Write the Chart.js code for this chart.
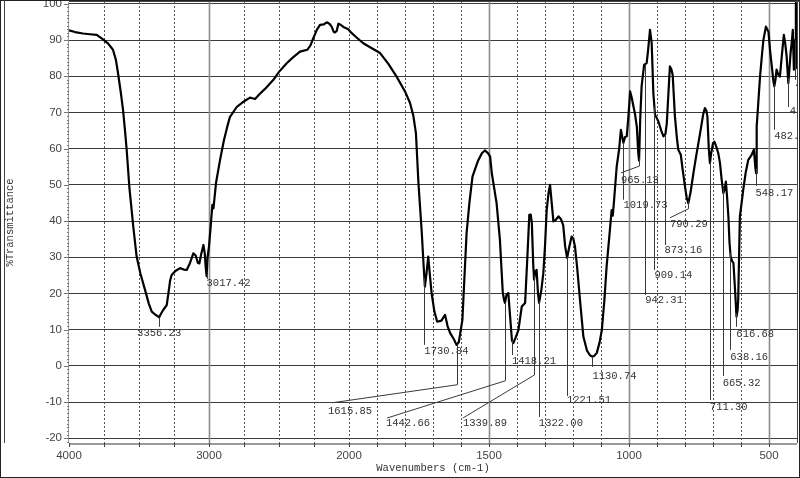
<!DOCTYPE html>
<html>
<head>
<meta charset="utf-8">
<script src="https://cdn.jsdelivr.net/npm/chart.js@4.4.1/dist/chart.umd.min.js"></script>
<style>
html,body{margin:0;padding:0;background:#fff;}
canvas{display:block;}
</style>
</head>
<body>
<canvas id="c" width="800" height="478" style="width:800px;height:478px"></canvas>
<script>
// ---- data ----
const wavenumbers = [4000,3957,3900,3850,3802,3757,3720,3686,3665,3650,3630,3614,3600,3588,3569,3555,3541,3517,3490,3457,3430,3409,3385,3362,3356,3340,3326,3302,3290,3278,3267,3240,3207,3180,3159,3135,3112,3095,3080,3069,3055,3040,3030,3024,3017,3010,3000,2988,2976,2968,2950,2921,2893,2870,2850,2802,2760,2707,2690,2671,2640,2600,2540,2500,2445,2400,2350,2298,2275,2255,2230,2207,2180,2159,2140,2124,2110,2100,2088,2076,2064,2040,2005,1996,1970,1949,1920,1889,1860,1830,1800,1782,1770,1761,1752,1740,1733,1729,1724,1717,1711,1705,1695,1685,1670,1657,1648,1639,1625,1616,1608,1595,1588,1580,1570,1559,1540,1525,1514,1503,1496,1490,1473,1461,1451,1447,1443,1438,1431,1425,1418,1413,1405,1395,1383,1371,1363,1356,1351,1347,1342,1339,1335,1330,1325,1321,1313,1306,1300,1294,1287,1282,1276,1270,1262,1252,1243,1235,1228,1221,1213,1205,1199,1193,1185,1175,1163,1150,1140,1133,1125,1115,1105,1097,1088,1080,1070,1062,1058,1053,1044,1035,1029,1020,1014,1008,1002,996,990,985,979,972,967,964,960,955,946,937,932,925,919,913,907,901,895,885,877,870,865,858,854,849,844,836,829,824,815,808,800,794,788,780,770,760,746,735,729,724,720,715,711,707,700,695,688,681,675,669,663,658,654,650,645,641,637,632,627,622,616,612,610,604,592,583,574,562,554,549,546,544,538,532,525,520,511,502,496,490,484,481,477,473,467,461,455,447,442,437,431,427,423,418,415,411,407,404,400];
const transmittance = [92.7,92.2,91.8,91.6,91.4,90.2,89.0,87.3,84.5,80.9,75.5,70.7,65,59.7,49.4,44,38.5,30.2,25.5,21,17.2,15,14.2,13.6,13.4,14.6,15.5,16.8,20,23.5,25.1,26.2,27,26.6,26.5,28.5,31.1,30.5,28.5,28.3,31,33.4,31,27.5,24.8,30,33,38.5,44.5,43.5,50.5,56.9,62.4,66,68.8,71.5,72.8,74.1,73.9,73.7,75,76.5,79,81.2,83.6,85.2,86.8,87.3,88.5,90.5,92.8,94.2,94.3,94.9,94.5,93.7,92.3,92.1,92.5,94.5,94.3,93.6,93,92.3,90.5,89.1,87.8,86.4,83.5,79.9,75.8,72.6,69,64.3,50.5,36.7,27,21.9,25,30.2,25,20.1,15,12.2,12.5,14.1,11,9.1,7.3,5.8,6.5,12.7,24,36.7,45,52.3,56.5,58.8,59.5,58.7,57.8,53.2,45,34.8,20.5,18.5,17.4,19.5,20.1,14,7,6.3,7.8,9.9,16.4,17.4,30,41.7,41.8,39.5,28,23.8,26,26.5,20,17.4,21,25.6,33,43,48,50,45,39.9,40.3,41.3,40.5,38.9,33,29.8,33,35.7,35.2,33,27,18.2,8.1,4.2,3,2.6,2.7,3.6,6.5,9.9,18,27.4,36,43,41.5,46,55,60,65.2,61.6,63.2,63.4,69,75.8,74,72,69.8,66,58.8,56.7,68,77.2,83.1,83.6,87,92.8,89.2,75.3,69.3,68.5,67.5,65,63.4,64,67,77,82.7,82,80.4,68.9,63,59.7,58.3,54,49.5,46.5,44.9,48,53.2,58,64.3,69.5,71.2,70.6,68.9,60,56,58.5,61.5,61.9,60.5,58.7,56,51.4,47.7,49,50.9,47,41.2,34,30.2,29,28.4,22,13.6,15.5,18.2,41.2,48.6,53.5,56.9,58.3,59.7,55,53.2,66.1,73,79.9,86,90,93.7,92.3,87,82.7,78.5,77.2,79,81.8,80.5,79.9,85,91.4,89,85.5,78.1,82,86.4,90,92.8,81.8,90,100.2,82];
const xTickLabels = [4000, 3000, 2000, 1500, 1000, 500];
const yMin = -21.3, yMax = 100.5, yStep = 10;
const solidGridWavenumbers = [3000, 1500, 1000, 500];
const dashedGridWavenumbers = [3750, 3500, 3250, 2750, 2500, 2250, 2000, 1900, 1800, 1700, 1600, 1400, 1300, 1200, 1100, 900, 800, 700, 600];
const peakWavenumbers = [3356.23, 3017.42, 1730.84, 1615.85, 1442.66, 1418.21, 1339.89, 1322.00, 1221.51, 1130.74, 1019.73, 965.13, 942.31, 909.14, 873.16, 790.29, 711.30, 665.32, 638.16, 616.68, 548.17, 482.21, 432.10, 407.07];
const peakLabels = ['3356.23','3017.42','1730.84','1615.85','1442.66','1418.21','1339.89','1322.00','1221.51','1130.74','1019.73','965.13','942.31','909.14','873.16','790.29','711.30','665.32','638.16','616.68','548.17','482.21','432.10','407.07'];

// ---- annotation layout (in data units: wavenumber, %T) ----
const annotationLayout = [
  {end: 10.8, text: [3356.23, 9.1], align: 'center'},
  {end: 24.0, text: [3017.42, 22.7]},
  {end: 5.8, text: [1730.84, 4.1]},
  {end: -5.2, via: [2121, -10.2], text: [2150, -12.4]},
  {end: -4.1, via: [1864, -14.4], text: [1868, -15.7]},
  {end: 3.0, text: [1418.21, 1.4]},
  {end: -2.5, via: [1593, -14.4], text: [1593, -15.7]},
  {end: -14.1, text: [1322.0, -15.7]},
  {end: -8.3, text: [1221.51, -9.4]},
  {end: -0.3, text: [1130.74, -2.8]},
  {end: 45.9, text: [1019.73, 44.5]},
  {end: 55.2, via: [1028.6, 53.3], text: [1028.6, 51.4]},
  {end: 19.6, text: [942.31, 18.2]},
  {end: 26.5, text: [909.14, 25.1]},
  {end: 33.4, text: [873.16, 32.0]},
  {end: 43.4, via: [853.6, 40.9], text: [853.6, 39.0]},
  {end: -9.4, text: [711.30, -11.3]},
  {end: -2.8, text: [665.32, -4.7]},
  {end: 4.4, text: [638.16, 2.5]},
  {end: 10.8, text: [616.68, 8.8]},
  {end: 49.7, text: [548.17, 47.8]},
  {end: 65.2, text: [481.5, 63.5]},
  {end: 71.5, text: [426, 70.2]},
  {end: 79.0, text: [405, 77.6]}
];

// piecewise axis (OMNIC style: 2x expansion below 2000 cm-1)
function toU(w){ return w >= 2000 ? (4000 - w) / 2 : 1000 + (2000 - w); }
function fromU(u){ return u <= 1000 ? 4000 - 2 * u : 2000 - (u - 1000); }
function curveAt(w){
  for (let i = 0; i < wavenumbers.length - 1; i++) {
    const a = wavenumbers[i], b = wavenumbers[i + 1];
    if (w <= a && w >= b) {
      const t = (a - w) / (a - b);
      return transmittance[i] + t * (transmittance[i + 1] - transmittance[i]);
    }
  }
  return transmittance[transmittance.length - 1];
}

const points = wavenumbers.map((w, i) => ({x: toU(w), y: transmittance[i]}));

const bgPlugin = {
  id: 'bg',
  beforeDraw(chart){
    const c = chart.ctx;
    c.save(); c.fillStyle = '#fff'; c.fillRect(0, 0, chart.width, chart.height); c.restore();
  }
};

const vGridPlugin = {
  id: 'vgrid',
  beforeDatasetsDraw(chart){
    const c = chart.ctx, xs = chart.scales.x, a = chart.chartArea;
    c.save();
    c.lineWidth = 1;
    c.strokeStyle = '#555';
    c.setLineDash([2, 2]);
    dashedGridWavenumbers.forEach(w => {
      const x = Math.round(xs.getPixelForValue(toU(w))) + 0.5;
      c.beginPath(); c.moveTo(x, a.top); c.lineTo(x, a.bottom); c.stroke();
    });
    c.setLineDash([]);
    c.strokeStyle = '#8c8c8c';
    c.lineWidth = 1.6;
    solidGridWavenumbers.forEach(w => {
      const x = Math.round(xs.getPixelForValue(toU(w))) + 0.5;
      c.beginPath(); c.moveTo(x, a.top); c.lineTo(x, a.bottom); c.stroke();
    });
    // bottom axis
    c.strokeStyle = '#9a9a9a'; c.lineWidth = 2;
    c.beginPath(); c.moveTo(a.left, a.bottom + 1); c.lineTo(a.right, a.bottom + 1); c.stroke();
    c.strokeStyle = '#444'; c.lineWidth = 1;
    [4000].concat(dashedGridWavenumbers, solidGridWavenumbers).forEach(w => {
      const x = Math.round(xs.getPixelForValue(toU(w))) + 0.5;
      c.beginPath(); c.moveTo(x, a.bottom); c.lineTo(x, a.bottom + 4); c.stroke();
    });
    // left axis with minor ticks
    const ys = chart.scales.y;
    c.strokeStyle = '#999'; c.lineWidth = 1;
    c.beginPath(); c.moveTo(a.left - 0.5, a.top); c.lineTo(a.left - 0.5, a.bottom); c.stroke();
    c.strokeStyle = '#777';
    for (let v = -21; v <= 100; v++) {
      const y = Math.round(ys.getPixelForValue(v)) + 0.5;
      const len = (v % 10 === 0) ? 5 : 2;
      c.beginPath(); c.moveTo(a.left - len, y); c.lineTo(a.left, y); c.stroke();
    }
    c.restore();
  }
};

const annotPlugin = {
  id: 'annot',
  afterDatasetsDraw(chart){
    const c = chart.ctx, xs = chart.scales.x, ys = chart.scales.y, a = chart.chartArea;
    c.save();
    c.beginPath(); c.rect(a.left, a.top, a.right - a.left, a.bottom - a.top); c.clip();
    c.strokeStyle = '#3a3a3a'; c.lineWidth = 1;
    c.fillStyle = '#333';
    c.font = '10.5px "Liberation Mono", "DejaVu Sans Mono", monospace';
    c.textBaseline = 'middle';
    peakWavenumbers.forEach((w, i) => {
      const L = annotationLayout[i];
      const px = Math.round(xs.getPixelForValue(toU(w))) + 0.5;
      const y0 = ys.getPixelForValue(curveAt(w));
      const y1 = ys.getPixelForValue(L.end);
      c.beginPath(); c.moveTo(px, y0); c.lineTo(px, y1);
      if (L.via) c.lineTo(xs.getPixelForValue(toU(L.via[0])), ys.getPixelForValue(L.via[1]));
      c.stroke();
      c.textAlign = L.align === 'center' ? 'center' : 'left';
      c.fillText(peakLabels[i], xs.getPixelForValue(toU(L.text[0])), ys.getPixelForValue(L.text[1]));
    });
    c.restore();
    // frame
    c.save();
    c.strokeStyle = '#222'; c.lineWidth = 1;
    c.strokeRect(0.5, 0.5, chart.width - 1, chart.height - 1);
    c.strokeStyle = '#444';
    c.beginPath(); c.moveTo(4.5, 0); c.lineTo(4.5, a.bottom); c.stroke();
    c.beginPath(); c.moveTo(a.left, 1.5); c.lineTo(chart.width, 1.5); c.stroke();
    c.beginPath(); c.moveTo(a.right + 0.5, 0); c.lineTo(a.right + 0.5, a.bottom); c.stroke();
    c.restore();
  }
};

new Chart(document.getElementById('c'), {
  type: 'line',
  data: {
    datasets: [{
      data: points,
      borderColor: '#000',
      borderWidth: 2.2,
      pointRadius: 0,
      tension: 0,
      fill: false,
      borderJoinStyle: 'round'
    }]
  },
  options: {
    responsive: false,
    animation: false,
    devicePixelRatio: 1,
    parsing: false,
    layout: {padding: {left: 0, right: 3, top: 2, bottom: 0}},
    plugins: {legend: {display: false}, tooltip: {enabled: false}},
    scales: {
      x: {
        type: 'linear',
        min: 0, max: 2600,
        afterBuildTicks: s => { s.ticks = xTickLabels.map(w => ({value: toU(w)})); },
        afterFit: s => { s.height = 35; s.paddingLeft = 0; s.paddingRight = 0; },
        ticks: {
          callback: v => String(Math.round(fromU(v))),
          autoSkip: false, maxRotation: 0, padding: -2,
          color: '#444',
          font: {family: '"Liberation Sans", Arial, sans-serif', size: 11.5}
        },
        grid: {display: false},
        border: {display: false},
        title: {
          display: true, text: 'Wavenumbers (cm-1)', color: '#333',
          font: {family: '"Liberation Mono", "DejaVu Sans Mono", monospace', size: 10.5},
          padding: {top: 0, bottom: 3}
        }
      },
      y: {
        min: yMin, max: yMax,
        afterFit: s => { s.width = 69; s.paddingTop = 0; s.paddingBottom = 0; },
        ticks: {
          stepSize: yStep, includeBounds: false, padding: 7,
          color: '#444',
          font: {family: '"Liberation Sans", Arial, sans-serif', size: 11.5}
        },
        grid: {color: '#3c3c3c', lineWidth: 1, drawTicks: false},
        border: {display: false},
        title: {
          display: true, text: '%Transmittance', color: '#333',
          font: {family: '"Liberation Mono", "DejaVu Sans Mono", monospace', size: 10.5},
          padding: {top: 4, bottom: 4}
        }
      }
    }
  },
  plugins: [bgPlugin, vGridPlugin, annotPlugin]
});
</script>
</body>
</html>
